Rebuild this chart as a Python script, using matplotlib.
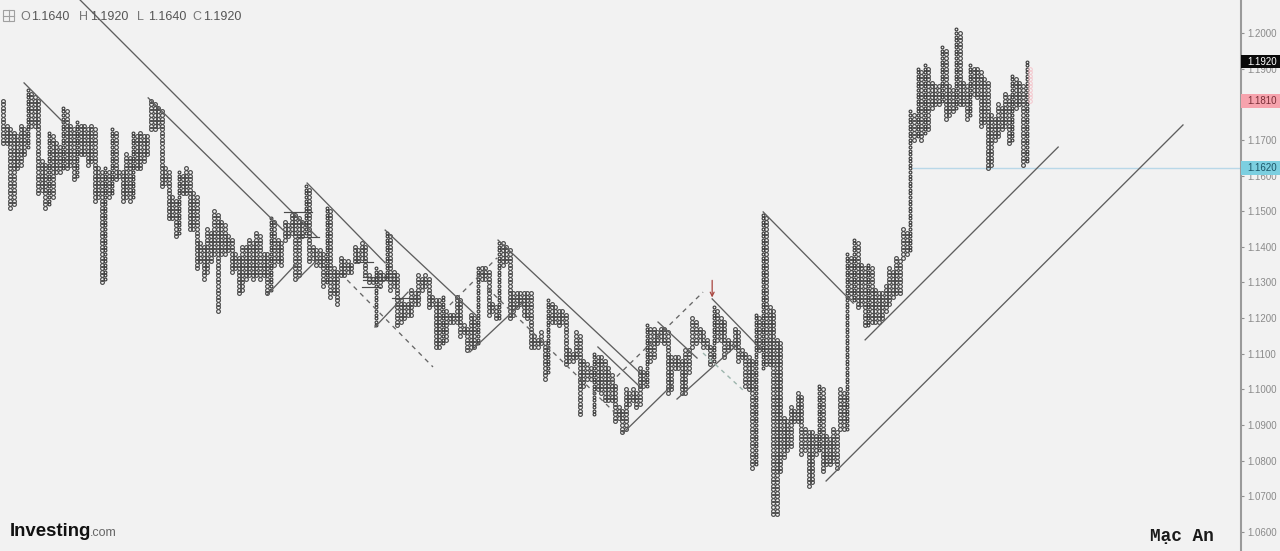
import numpy as np
import matplotlib
matplotlib.use("Agg")
import matplotlib.pyplot as plt
from matplotlib.patches import Rectangle

plt.rcParams['font.family'] = ['Liberation Sans', 'DejaVu Sans']

# Point & figure columns, prices in thousandths (box size 0.001)
col_high = [
 1181,1174,1173,1172,1171,1174,1173,1184,1183,1182,1181,1164,1163,1172,1171,1169,1168,1179,1178,1174,
 1173,1175,1174,1174,1173,1174,1173,1162,1161,1162,1161,1173,1172,1161,1161,1166,1165,1172,1171,1172,
 1171,1171,1181,1180,1179,1178,1162,1161,1154,1153,1161,1160,1162,1161,1155,1154,1141,1140,1145,1144,
 1150,1149,1147,1146,1143,1142,1138,1137,1140,1140,1142,1141,1144,1143,1138,1138,1148,1147,1142,1141,
 1147,1146,1149,1149,1148,1147,1157,1156,1140,1139,1139,1138,1151,1150,1134,1133,1137,1136,1136,1135,
 1140,1139,1141,1140,1132,1131,1134,1133,1132,1144,1143,1133,1132,1125,1124,1124,1128,1127,1132,1131,
 1132,1131,1126,1125,1125,1126,1122,1121,1121,1126,1125,1118,1117,1121,1120,1134,1134,1134,1133,1124,
 1123,1141,1141,1140,1139,1127,1127,1127,1127,1127,1127,1115,1114,1116,1113,1125,1124,1123,1122,1122,
 1121,1111,1110,1116,1115,1108,1107,1106,1110,1109,1109,1108,1106,1104,1101,1095,1094,1100,1099,1100,
 1099,1106,1105,1118,1117,1117,1116,1117,1117,1116,1109,1109,1109,1108,1111,1111,1120,1119,1117,1116,
 1114,1112,1123,1122,1120,1119,1114,1113,1117,1116,1111,1110,1109,1108,1121,1120,1149,1148,1123,1122,
 1114,1113,1092,1091,1095,1094,1099,1098,1089,1088,1088,1087,1101,1100,1087,1086,1089,1088,1100,1099,
 1138,1137,1142,1141,1135,1134,1135,1134,1128,1127,1127,1129,1134,1133,1137,1136,1145,1144,1178,1177,
 1190,1189,1191,1190,1186,1185,1185,1196,1195,1185,1184,1201,1200,1186,1185,1191,1190,1190,1189,1187,
 1186,1177,1176,1180,1179,1183,1182,1188,1187,1186,1185,1192]
col_low = [
 1169,1169,1151,1152,1162,1163,1166,1168,1174,1174,1155,1156,1151,1152,1154,1161,1161,1162,1162,1163,
 1159,1160,1166,1166,1163,1164,1153,1154,1130,1131,1154,1155,1159,1160,1153,1154,1153,1154,1162,1162,
 1164,1166,1173,1173,1174,1157,1158,1148,1148,1143,1144,1155,1155,1145,1145,1134,1136,1131,1133,1136,
 1138,1122,1138,1138,1139,1133,1134,1127,1128,1131,1132,1131,1132,1131,1132,1127,1128,1135,1136,1135,
 1142,1143,1144,1131,1132,1143,1144,1136,1137,1135,1135,1129,1130,1126,1127,1124,1132,1132,1133,1133,
 1136,1136,1137,1132,1130,1130,1118,1129,1131,1131,1128,1129,1118,1119,1120,1121,1121,1124,1124,1128,
 1129,1123,1124,1112,1112,1113,1114,1119,1119,1119,1115,1116,1111,1112,1112,1113,1131,1131,1121,1122,
 1120,1120,1135,1136,1120,1121,1123,1124,1121,1120,1112,1112,1112,1113,1103,1105,1119,1119,1118,1119,
 1107,1108,1108,1109,1093,1101,1103,1103,1093,1100,1099,1097,1097,1097,1091,1092,1088,1089,1096,1097,
 1095,1096,1101,1101,1108,1109,1113,1114,1113,1099,1100,1106,1106,1099,1099,1105,1112,1113,1114,1112,
 1112,1107,1108,1114,1114,1109,1111,1112,1112,1108,1109,1101,1100,1078,1079,1111,1106,1107,1107,1065,
 1065,1077,1081,1083,1084,1091,1091,1082,1083,1073,1074,1082,1083,1077,1079,1079,1080,1078,1089,1089,
 1089,1126,1125,1123,1124,1118,1118,1119,1119,1119,1120,1122,1124,1126,1127,1127,1137,1138,1139,1170,
 1171,1170,1172,1173,1179,1180,1180,1181,1176,1177,1178,1179,1180,1180,1176,1177,1183,1182,1174,1175,
 1162,1163,1170,1171,1173,1174,1169,1170,1179,1180,1163,1164]

# Faded projected column after the last one
pending_high = 1190
pending_low = 1181

# Trendlines: (column, price, column, price), price in thousandths
solid_lines = [
 (21.8,1209.3,89.2,1142.8),(5.9,1186.0,17.0,1175.0),(41.2,1181.8,80.1,1144.2),
 (75.0,1126.5,83.0,1134.9),(83.5,1130.7,89.2,1136.3),(86.4,1157.9,108.6,1135.5),
 (108.6,1144.7,135.0,1120.3),(105.7,1117.5,115.1,1127.3),(132.7,1110.5,147.8,1124.5),
 (140.7,1141.9,181.1,1104.6),(169.1,1111.9,181.1,1100.7),(176.3,1087.8,190.2,1101.2),
 (186.2,1118.9,197.3,1108.8),(191.6,1097.3,208.7,1112.5),(201.6,1125.4,215.2,1111.6),
 (216.1,1149.8,241.7,1124.2),(245.1,1113.9,300.0,1168.0),(234.0,1074.3,335.5,1174.2)]
level_lines = [
 (79.8,87.8,1149.8),(83.5,89.8,1142.8),(100.0,105.2,1135.7),(102.3,112.0,1131.5),
 (102.3,112.3,1130.7),(102.0,107.1,1128.7),(110.5,118.5,1125.6)]
dashed_lines = [
 (97.8,1130.7,122.2,1106.3),(127.0,1123.7,140.4,1136.9),
 (137.6,1128.5,174.0,1093.4),(172.6,1101.8,199.0,1127.3)]
green_dashed = [(199.0,1110.2,210.4,1099.8)]
arrow_col, arrow_top, arrow_tip = 201.6, 1130.6, 1125.8
support_start, support_price = 258.7, 1162.2

y_ticks = [1.06,1.07,1.08,1.09,1.10,1.11,1.12,1.13,1.14,1.15,1.16,1.17,1.19,1.20]
price_tags = [(1.1920,'#0a0a0a','#ffffff'),(1.1810,'#f6a3ad','#7a2f38'),(1.1620,'#7ccfe0','#1c5566')]
ohlc = [('O','1.1640',20),('H','1.1920',79),('L','1.1640',137),('C','1.1920',192)]

W, H = 1280, 551
BG = '#f2f2f2'
fig = plt.figure(figsize=(W/100, H/100), dpi=100, facecolor=BG)
ax = fig.add_axes([0, 0, 1241/W, 1], facecolor=BG)
ax.set_xlim(-0.94, 352.0)
ax.set_ylim(1.05466, 1.20926)

# Columns
ohigh, olow = np.array(col_high), np.array(col_low)
xs_o, ys_o, xs_x, ys_x = [], [], [], []
n = len(ohigh)
for i in range(n):
    boxes = np.arange(olow[i], ohigh[i] + 1) / 1000
    prev_h = ohigh[i-1] if i else 0
    next_h = ohigh[i+1] if i < n-1 else 0
    rising = ohigh[i] > prev_h and ohigh[i] >= next_h and ohigh[i] - olow[i] > 12
    if rising:
        xs_x += [i]*len(boxes); ys_x += list(boxes)
    else:
        xs_o += [i]*len(boxes); ys_o += list(boxes)
ax.plot(xs_o, ys_o, ls='none', marker='o', ms=2.7, mfc='none', mec='#4a4a4a', mew=0.85, zorder=3)
ax.plot(xs_x, ys_x, ls='none', marker='o', ms=2.0, mfc='none', mec='#404040', mew=0.85, zorder=3)
pb = np.arange(pending_low, pending_high + 1) / 1000
ax.plot([n]*len(pb), pb, ls='none', marker='o', ms=2.6, mfc='none', mec='#f4c6cc', mew=0.7, zorder=3)

# Lines
for c0, p0, c1, p1 in solid_lines:
    ax.plot([c0, c1], [p0/1000, p1/1000], color='#5e5e5e', lw=0.95, zorder=4)
for c0, c1, p in level_lines:
    ax.plot([c0, c1], [p/1000, p/1000], color='#4a4a4a', lw=0.85, zorder=4)
for c0, p0, c1, p1 in dashed_lines:
    ax.plot([c0, c1], [p0/1000, p1/1000], color='#666666', lw=0.95, dashes=(3.5, 3.5), zorder=4)
for c0, p0, c1, p1 in green_dashed:
    ax.plot([c0, c1], [p0/1000, p1/1000], color='#9db5ad', lw=1.0, dashes=(3, 3), zorder=4)
ax.plot([support_start, 352.0], [support_price/1000]*2, color='#b9d8e8', lw=1.0, zorder=2)
ax.annotate('', xy=(arrow_col, arrow_tip/1000), xytext=(arrow_col, arrow_top/1000),
            arrowprops=dict(arrowstyle='->,head_width=0.14,head_length=0.28', color='#a8453f', lw=0.9,
                            shrinkA=0, shrinkB=0), zorder=5)

# Right price axis
ax.yaxis.tick_right()
ax.set_yticks(y_ticks)
ax.set_yticklabels([f'{t:.4f}' for t in y_ticks])
ax.tick_params(axis='y', length=2.5, width=0.8, color='#909090', labelcolor='#8a8a8a', labelsize=7, pad=2)
ax.set_xticks([])
for s in ['top', 'bottom', 'left']:
    ax.spines[s].set_visible(False)
ax.spines['right'].set_color('#9a9a9a')
ax.spines['right'].set_linewidth(1.5)

trans = ax.get_yaxis_transform()
for price, bg, fg in price_tags:
    ax.add_patch(Rectangle((1.0, price - 0.00195), 39/1241, 0.0039, transform=trans,
                           fc=bg, ec='none', clip_on=False, zorder=20))
    ax.text(1 + 6/1241, price, f'{price:.4f}', transform=trans, color=fg, fontsize=7,
            va='center', ha='left', clip_on=False, zorder=21)

# Header
def px(x, y):
    return x / W, 1 - y / H
fig.add_artist(Rectangle(px(3, 21), 11/W, 11/H, transform=fig.transFigure, fc='none', ec='#a0a0a0', lw=0.8))
fig.add_artist(plt.Line2D([3/W, 14/W], [1-15.5/H]*2, color='#a0a0a0', lw=0.8))
fig.add_artist(plt.Line2D([8.5/W]*2, [1-10/H, 1-21/H], color='#a0a0a0', lw=0.8))
for lab, val, x in ohlc:
    fig.text(*px(x, 16.5), lab, color='#777777', fontsize=9, va='center', ha='left')
    fig.text(*px(x + 11, 16.5), val, color='#555555', fontsize=9, va='center', ha='left')

# Logo and signature
fig.text(*px(10, 531), 'Investing', color='#111111', fontsize=13.4, fontweight='bold', va='center', ha='left')
fig.text(*px(90, 533), '.com', color='#666666', fontsize=9, va='center', ha='left')
fig.text(*px(1150, 537), 'Mạc An', color='#1a1a1a', fontsize=12.8, family=['Liberation Mono', 'DejaVu Sans Mono'],
         fontweight='bold', va='center', ha='left')

fig.savefig('out.png', dpi=100, facecolor=BG)
